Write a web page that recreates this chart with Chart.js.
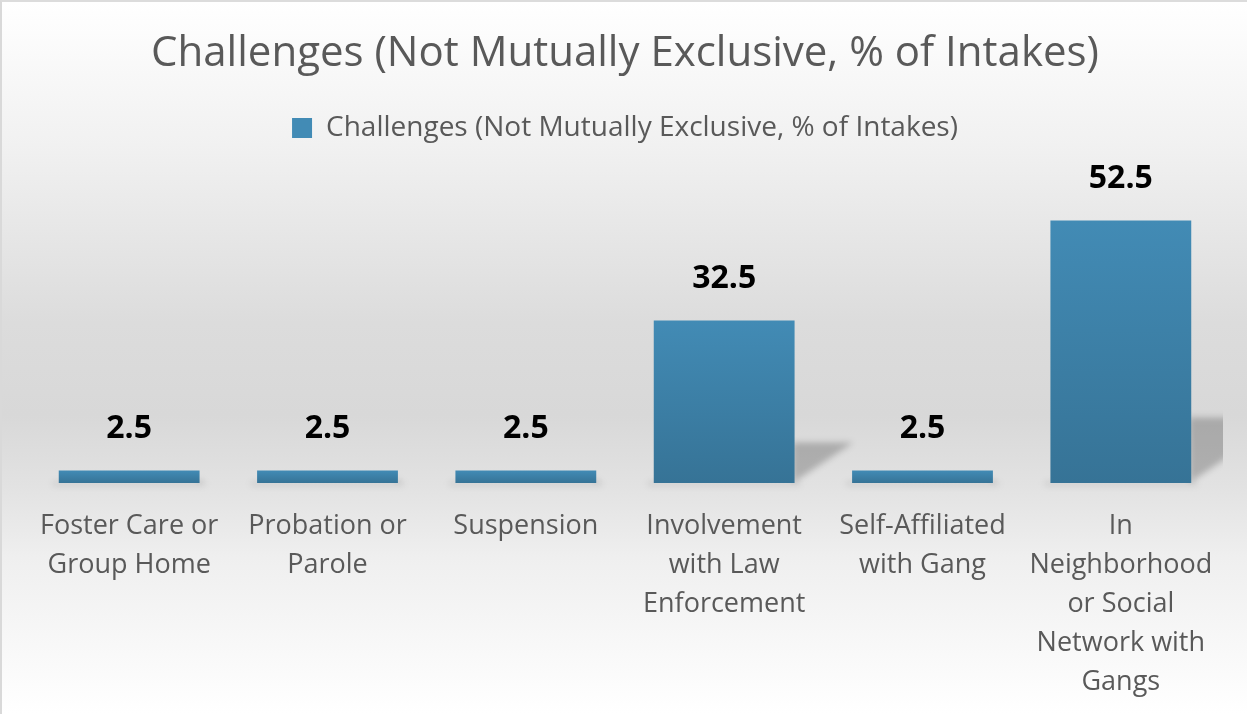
<!DOCTYPE html>
<html>
<head>
<meta charset="utf-8">
<script src="https://cdn.jsdelivr.net/npm/chart.js@4"></script>
<style>
  html, body { margin: 0; padding: 0; }
  #wrap {
    width: 1247px; height: 714px; box-sizing: border-box;
    border-left: 2px solid #d9d9d9; border-top: 2px solid #dcdcdc;
    background: linear-gradient(to bottom, #ffffff 0%, #f1f1f1 20%, #dcdcdc 45%, #d8d8d8 58%, #e2e2e2 68%, #efefef 78%, #ffffff 100%);
  }
</style>
</head>
<body>
<div id="wrap"><canvas id="challenges"></canvas></div>
<script>
var categories = [
  ['Foster Care or', 'Group Home'],
  ['Probation or', 'Parole'],
  'Suspension',
  ['Involvement', 'with Law', 'Enforcement'],
  ['Self-Affiliated', 'with Gang'],
  ['In', 'Neighborhood', 'or Social', 'Network with', 'Gangs']
];
var percentOfIntakes = [2.5, 2.5, 2.5, 32.5, 2.5, 52.5];
var seriesName = 'Challenges (Not Mutually Exclusive, % of Intakes)';

var FONT = '"Open Sans", "Noto Sans", sans-serif';

// vertical gradient for each bar, from its top down to the baseline
function barGradient(context) {
  var chart = context.chart;
  var y = chart.scales.y;
  if (!y || context.parsed == null) return '#3d82ab';
  var top = y.getPixelForValue(context.parsed.y);
  var base = y.getPixelForValue(0);
  if (!isFinite(top) || !isFinite(base) || top === base) return '#3d82ab';
  var g = chart.ctx.createLinearGradient(0, top, 0, base);
  g.addColorStop(0, '#428bb5');
  g.addColorStop(1, '#367396');
  return g;
}

// leave room under the legend for the value labels
var legendGap = {
  id: 'legendGap',
  beforeInit: function (chart) {
    var fit = chart.legend.fit;
    chart.legend.fit = function () {
      fit.call(this);
      this.height += 31;
    };
  }
};

// soft perspective shadow cast to the right of each bar
var barShadow = {
  id: 'barShadow',
  beforeDatasetsDraw: function (chart) {
    var ctx = chart.ctx, area = chart.chartArea;
    chart.getDatasetMeta(0).data.forEach(function (bar) {
      var h = bar.base - bar.y;
      var right = bar.x + bar.width / 2;
      var left = bar.x - bar.width / 2;
      ctx.save();
      ctx.beginPath();
      ctx.rect(area.left, area.top, area.right - area.left + 3, area.bottom - area.top + 10);
      ctx.clip();
      ctx.filter = 'blur(3px)';
      ctx.fillStyle = 'rgba(0,0,0,0.22)';
      ctx.beginPath();
      ctx.moveTo(right - 2, bar.base);
      ctx.lineTo(right + h * 0.36, bar.base - h * 0.25);
      ctx.lineTo(right - 2, bar.base - h * 0.25);
      ctx.closePath();
      ctx.fill();
      ctx.fillStyle = 'rgba(0,0,0,0.08)';
      ctx.fillRect(left - 6, bar.base - 2, bar.width + 12, 5);
      ctx.restore();
    });
  }
};

// bold value above each bar
var valueLabels = {
  id: 'valueLabels',
  afterDatasetsDraw: function (chart) {
    var ctx = chart.ctx;
    var values = chart.data.datasets[0].data;
    ctx.save();
    ctx.font = 'bold 32px ' + FONT;
    ctx.fillStyle = '#000000';
    ctx.textAlign = 'center';
    ctx.textBaseline = 'middle';
    chart.getDatasetMeta(0).data.forEach(function (bar, i) {
      ctx.fillText(values[i].toFixed(1), bar.x, bar.y - 42);
    });
    ctx.restore();
  }
};

new Chart(document.getElementById('challenges'), {
  type: 'bar',
  data: {
    labels: categories,
    datasets: [{
      label: seriesName,
      data: percentOfIntakes,
      backgroundColor: barGradient,
      borderWidth: 0,
      barPercentage: 0.71,
      categoryPercentage: 1
    }]
  },
  options: {
    responsive: true,
    maintainAspectRatio: false,
    animation: false,
    layout: { padding: { left: 28, right: 27, top: 8, bottom: 0 } },
    plugins: {
      title: {
        display: true,
        text: 'Challenges (Not Mutually Exclusive, % of Intakes)',
        color: '#595959',
        font: { family: FONT, size: 42, weight: 'normal', lineHeight: 1.0 },
        padding: { top: 23, bottom: 0 }
      },
      legend: {
        display: true,
        labels: {
          color: '#595959',
          font: { family: FONT, size: 28 },
          boxWidth: 20,
          boxHeight: 20,
          padding: 39
        }
      },
      tooltip: { enabled: false }
    },
    scales: {
      x: {
        grid: { display: false },
        border: { display: false },
        afterFit: function (scale) { scale.height -= 4; },
        ticks: {
          color: '#595959',
          font: { family: FONT, size: 27, lineHeight: 1.444 },
          maxRotation: 0,
          autoSkip: false,
          padding: 16
        }
      },
      y: {
        display: false,
        min: 0,
        max: 60
      }
    }
  },
  plugins: [legendGap, barShadow, valueLabels]
});
</script>
</body>
</html>
